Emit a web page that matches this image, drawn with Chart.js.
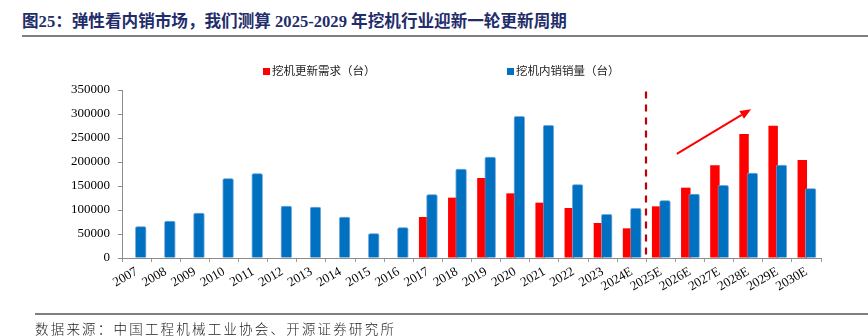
<!DOCTYPE html>
<html>
<head>
<meta charset="utf-8">
<script src="https://cdn.jsdelivr.net/npm/chart.js@4.4.1/dist/chart.umd.min.js"></script>
<style>
  body { margin: 0; width: 868px; height: 336px; background: #fff; position: relative; overflow: hidden;
         font-family: "Liberation Serif", "Noto Sans CJK SC", serif; }
  #title { position: absolute; left: 22px; top: 8px; font-size: 16.6px; font-weight: bold; color: #1f2d6b; white-space: nowrap; }
  .rule { position: absolute; right: 0; height: 2px; background: #7f7f7f; }
  #legend { position: absolute; top: 62px; left: 0; width: 868px; height: 16px; font-family: "Noto Sans CJK SC", sans-serif; font-size: 11.5px; color: #222; }
  .item { position: absolute; top: 0; white-space: nowrap; line-height: 16px; }
  .swatch { display: inline-block; width: 7px; height: 7px; margin-right: 2px; vertical-align: 0px; }
  #source { position: absolute; left: 35px; top: 318px; font-family: "Noto Sans CJK SC", sans-serif; font-size: 13.5px; letter-spacing: 2.2px; color: #222; white-space: nowrap; font-weight: 300; }
  #wrap { position: absolute; left: 0; top: 0; width: 868px; height: 336px; }
</style>
</head>
<body>
<div id="title">图25：弹性看内销市场，我们测算 2025-2029 年挖机行业迎新一轮更新周期</div>
<div class="rule" style="left:22px; top:35px;"></div>
<div id="wrap"><canvas id="chart"></canvas></div>
<div id="legend">
  <div class="item" style="left:263px;"><span class="swatch" style="background:#ff0000;"></span>挖机更新需求（台）</div>
  <div class="item" style="left:507px;"><span class="swatch" style="background:#0070c0;"></span>挖机内销销量（台）</div>
</div>
<div class="rule" style="left:35px; top:313px;"></div>
<div id="source">数据来源：中国工程机械工业协会、开源证券研究所</div>

<script>
// years on the category axis
const years = ['2007', '2008', '2009', '2010', '2011', '2012', '2013', '2014', '2015', '2016', '2017', '2018',
               '2019', '2020', '2021', '2022', '2023', '2024E', '2025E', '2026E', '2027E', '2028E', '2029E', '2030E'];

// replacement demand (red), only from 2017 on
const renewalDemand = [null, null, null, null, null, null, null, null, null, null, 85400, 125700,
                       166700, 134700, 115300, 104200, 72900, 61800, 107600, 146500, 193000, 258300, 275700, 204200];

// domestic excavator sales (blue)
const domesticSales = [66000, 77700, 94400, 166000, 176400, 109000, 106900, 86000, 51400, 63900, 132700, 186100,
                       211100, 295800, 277100, 153500, 91700, 104200, 120100, 134000, 152100, 177800, 194400, 145100];

const yMax = 350000;
const yStep = 50000;

// forecast divider sits between 2024E and 2025E
const dividerIndex = 17.5;
const dividerTop = 347000;

// trend arrow, in (category index, value) units
const arrowFrom = [18.55, 217000];
const arrowTo = [21.1, 310000];

const overlays = {
    id: 'overlays',
    afterDatasetsDraw(chart) {
        // blue bars sit on top of the red ones
        chart.getDatasetMeta(1).controller.draw();

        const x = chart.scales.x, y = chart.scales.y, ctx = chart.ctx;
        ctx.save();

        // dashed divider
        const dx = Math.round(x.getPixelForValue(dividerIndex));
        ctx.strokeStyle = '#c00000';
        ctx.lineWidth = 2.2;
        ctx.setLineDash([7, 6]);
        ctx.beginPath();
        ctx.moveTo(dx, y.getPixelForValue(dividerTop));
        ctx.lineTo(dx, y.getPixelForValue(0));
        ctx.stroke();
        ctx.setLineDash([]);

        // arrow
        const x1 = x.getPixelForValue(arrowFrom[0]), y1 = y.getPixelForValue(arrowFrom[1]);
        const x2 = x.getPixelForValue(arrowTo[0]), y2 = y.getPixelForValue(arrowTo[1]);
        const ang = Math.atan2(y2 - y1, x2 - x1);
        const head = 11, half = 4.5;
        const bx = x2 - head * Math.cos(ang), by = y2 - head * Math.sin(ang);
        ctx.strokeStyle = '#ff0000';
        ctx.fillStyle = '#ff0000';
        ctx.lineWidth = 2;
        ctx.beginPath();
        ctx.moveTo(x1, y1);
        ctx.lineTo(bx, by);
        ctx.stroke();
        ctx.beginPath();
        ctx.moveTo(x2, y2);
        ctx.lineTo(bx + half * Math.sin(ang), by - half * Math.cos(ang));
        ctx.lineTo(bx - half * Math.sin(ang), by + half * Math.cos(ang));
        ctx.closePath();
        ctx.fill();

        ctx.restore();
    }
};

const tickFont = { family: '"Liberation Serif", serif', size: 13 };

new Chart(document.getElementById('chart'), {
    type: 'bar',
    data: {
        labels: years,
        datasets: [
            {
                label: '挖机更新需求（台）',
                data: renewalDemand,
                backgroundColor: '#ff0000',
                borderWidth: 0,
                categoryPercentage: 0.57,
                barPercentage: 1.14
            },
            {
                label: '挖机内销销量（台）',
                data: domesticSales,
                backgroundColor: '#0070c0',
                borderColor: 'rgba(120,170,222,0.9)',
                borderWidth: 1,
                borderRadius: 2,
                borderSkipped: 'bottom',
                categoryPercentage: 0.57,
                barPercentage: 1.36
            }
        ]
    },
    options: {
        responsive: true,
        maintainAspectRatio: false,
        animation: false,
        layout: { padding: { top: 90, right: 47, left: 0, bottom: 0 } },
        plugins: {
            legend: { display: false },
            tooltip: { enabled: false }
        },
        scales: {
            x: {
                afterFit: (s) => { s.height = 78; },
                grid: { display: true, drawOnChartArea: false, tickLength: 4, color: '#9a9a9a', offset: true },
                border: { color: '#8c8c8c', width: 1 },
                ticks: { color: '#000', font: tickFont, minRotation: 30, maxRotation: 30, padding: 2, autoSkip: false }
            },
            y: {
                min: 0,
                max: yMax,
                afterFit: (s) => { s.width = 122; },
                grid: { display: true, drawOnChartArea: false, tickLength: 4, color: '#8c8c8c' },
                border: { color: '#8c8c8c', width: 1 },
                ticks: { stepSize: yStep, color: '#000', font: tickFont, padding: 8, callback: (v) => String(v) }
            }
        }
    },
    plugins: [overlays]
});
</script>
</body>
</html>
